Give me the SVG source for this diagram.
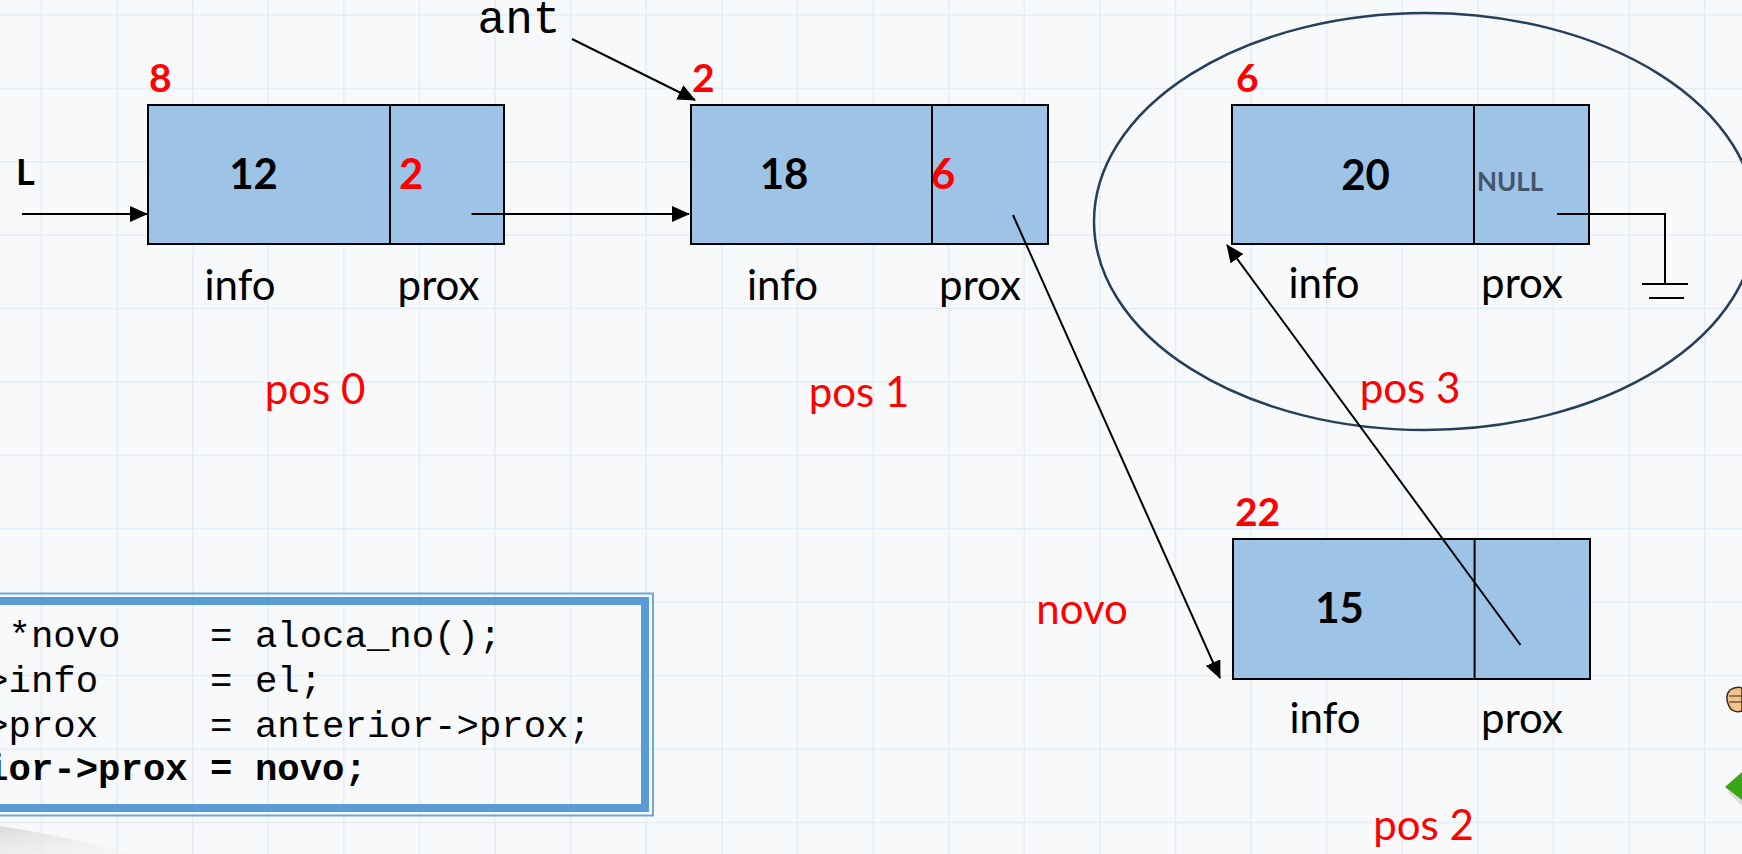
<svg xmlns="http://www.w3.org/2000/svg" width="1742" height="854" viewBox="0 0 1742 854">
  <defs>
    <marker id="arrow" markerUnits="userSpaceOnUse" markerWidth="18" markerHeight="16" viewBox="0 0 18 16" refX="17" refY="8" orient="auto">
      <path d="M0,0 L18,8 L0,16 z" fill="#000"/>
    </marker>
    <linearGradient id="swoosh" x1="0" y1="0" x2="1" y2="1">
      <stop offset="0" stop-color="#d9d9d9" stop-opacity="0.9"/>
      <stop offset="1" stop-color="#ececec" stop-opacity="0.2"/>
    </linearGradient>
  </defs>
  <style>
    .cell{fill:#9dc3e6;stroke:#000;stroke-width:2}
    .div{stroke:#000;stroke-width:2}
    .val{font-family:Lato,"Liberation Sans",sans-serif;font-weight:700;font-size:42px;fill:#000}
    .addr{font-family:Lato,"Liberation Sans",sans-serif;font-weight:700;font-size:39px;fill:#ff0000}
    .ptr{font-family:Lato,"Liberation Sans",sans-serif;font-weight:700;font-size:42px;fill:#ff0000}
    .lbl{font-family:Lato,"Liberation Sans",sans-serif;font-size:42px;fill:#000;text-anchor:middle}
    .pos{font-family:Lato,"Liberation Sans",sans-serif;font-size:42px;fill:#ff0000;text-anchor:middle}
    .code{font-family:"Liberation Mono",monospace;font-size:37.33px;fill:#000;white-space:pre}
    .link{stroke:#000;stroke-width:2;fill:none}
    .mid{text-anchor:middle}
  </style>

  <!-- paper background with grid -->
  <rect width="1742" height="854" fill="#f8f9fa"/>
  <path fill="none" stroke="#e3eef8" stroke-width="1.5"
        d="M41.5 0V854M117.1 0V854M192.7 0V854M268.3 0V854M343.9 0V854M419.5 0V854M495.1 0V854M570.7 0V854M646.3 0V854M721.9 0V854M797.5 0V854M873.1 0V854M948.7 0V854M1024.3 0V854M1099.9 0V854M1175.5 0V854M1251.1 0V854M1326.7 0V854M1402.3 0V854M1477.9 0V854M1553.5 0V854M1629.1 0V854M1704.7 0V854
           M0 15H1742M0 88.4H1742M0 161.8H1742M0 235.2H1742M0 308.6H1742M0 382H1742M0 455.4H1742M0 528.8H1742M0 602.2H1742M0 675.6H1742M0 749H1742M0 822.4H1742"/>

  <!-- corner decorations -->
  <path d="M0 826 C40 832 90 842 130 854 L0 854 Z" fill="url(#swoosh)"/>
  <g id="clipart">
    <path d="M1730 690 C1736 686 1742 687 1742 689 L1742 711 C1737 713 1731 711 1729 706 C1726 701 1726 694 1730 690 Z" fill="#f2c28e" stroke="#3a2a1a" stroke-width="1.5"/>
    <path d="M1729 696 H1742 M1729 702 H1742" stroke="#3a2a1a" stroke-width="1"/>
    <path d="M1728 792 L1742 782 L1742 806 Z" fill="#cfcfcf" opacity="0.7"/>
    <path d="M1725 787 L1742 772 L1742 800 Z" fill="#3aa416"/>
  </g>

  <!-- list head label -->
  <text x="16" y="185" class="val" style="font-size:36px">L</text>
  <!-- previous-node pointer label -->
  <text x="519" y="33" class="mid" style="font-family:'Liberation Mono',monospace;font-size:46px;fill:#000">ant</text>

  <!-- node at address 8 -->
  <g id="node-pos0">
    <rect class="cell" x="148" y="105" width="356" height="139"/>
    <line class="div" x1="390" y1="105" x2="390" y2="244"/>
    <text class="addr" x="149" y="92">8</text>
    <text class="val mid" x="253.5" y="189">12</text>
    <text class="ptr" x="399" y="189">2</text>
    <text class="lbl" x="240" y="300">info</text>
    <text class="lbl" x="438.5" y="300">prox</text>
    <text class="pos" x="315" y="404">pos 0</text>
  </g>

  <!-- node at address 2 -->
  <g id="node-pos1">
    <rect class="cell" x="691" y="105" width="357" height="139"/>
    <line class="div" x1="932" y1="105" x2="932" y2="244"/>
    <text class="addr" x="692" y="92">2</text>
    <text class="val mid" x="784" y="189">18</text>
    <text class="ptr" x="931" y="189">6</text>
    <text class="lbl" x="782.5" y="300">info</text>
    <text class="lbl" x="980" y="300">prox</text>
    <text class="pos" x="859" y="407">pos 1</text>
  </g>

  <!-- node at address 6 (last node) -->
  <g id="node-pos3">
    <ellipse cx="1425" cy="221.5" rx="331" ry="208.5" fill="none" stroke="#263f5a" stroke-width="2.5"/>
    <rect class="cell" x="1232" y="105" width="357" height="139"/>
    <line class="div" x1="1474" y1="105" x2="1474" y2="244"/>
    <text class="addr" x="1236" y="92">6</text>
    <text class="val mid" x="1365.6" y="190">20</text>
    <text x="1477" y="190.5" style="font-family:Lato,'Liberation Sans',sans-serif;font-weight:700;font-size:26px;fill:#44546a">NULL</text>
    <text class="lbl" x="1324" y="298">info</text>
    <text class="lbl" x="1522" y="298">prox</text>
    <text class="pos" x="1410" y="403">pos 3</text>
  </g>

  <!-- new node at address 22 -->
  <g id="node-pos2">
    <rect class="cell" x="1233" y="539" width="357" height="140"/>
    <line class="div" x1="1474.6" y1="539" x2="1474.6" y2="679"/>
    <text class="addr" x="1235" y="526">22</text>
    <text class="val mid" x="1339.5" y="623">15</text>
    <text class="lbl" x="1325" y="733">info</text>
    <text class="lbl" x="1522" y="733">prox</text>
    <text class="pos" x="1423.5" y="840">pos 2</text>
    <text class="pos" x="1082" y="624">novo</text>
  </g>

  <!-- insertion code -->
  <g id="code">
    <rect x="-20" y="601" width="665" height="207" fill="none" stroke="#5b9bd5" stroke-width="8"/>
    <rect x="-20" y="593.5" width="673" height="222" fill="none" stroke="#6fa7dc" stroke-width="2"/>
    <text class="code" x="8.5" y="647">*novo    = aloca_no();</text>
    <text class="code" x="-13.9" y="691.5">&gt;info     = el;</text>
    <text class="code" x="-13.9" y="736.5">&gt;prox     = anterior-&gt;prox;</text>
    <text class="code" x="-13.9" y="780" font-weight="700">ior-&gt;prox = novo;</text>
  </g>

  <!-- pointers between nodes -->
  <g id="connectors">
    <line class="link" x1="22" y1="214" x2="147" y2="214" marker-end="url(#arrow)"/>
    <line class="link" x1="471.5" y1="214" x2="689" y2="214" marker-end="url(#arrow)"/>
    <line class="link" x1="572" y1="39" x2="695" y2="100" marker-end="url(#arrow)"/>
    <line class="link" x1="1013" y1="215" x2="1220" y2="678" marker-end="url(#arrow)"/>
    <line class="link" x1="1520.5" y1="645" x2="1227" y2="245" marker-end="url(#arrow)"/>
    <polyline class="link" points="1557,214 1665,214 1665,284"/>
    <line class="link" x1="1642" y1="284" x2="1688" y2="284"/>
    <line class="link" x1="1649" y1="298" x2="1684" y2="298"/>
  </g>
</svg>
